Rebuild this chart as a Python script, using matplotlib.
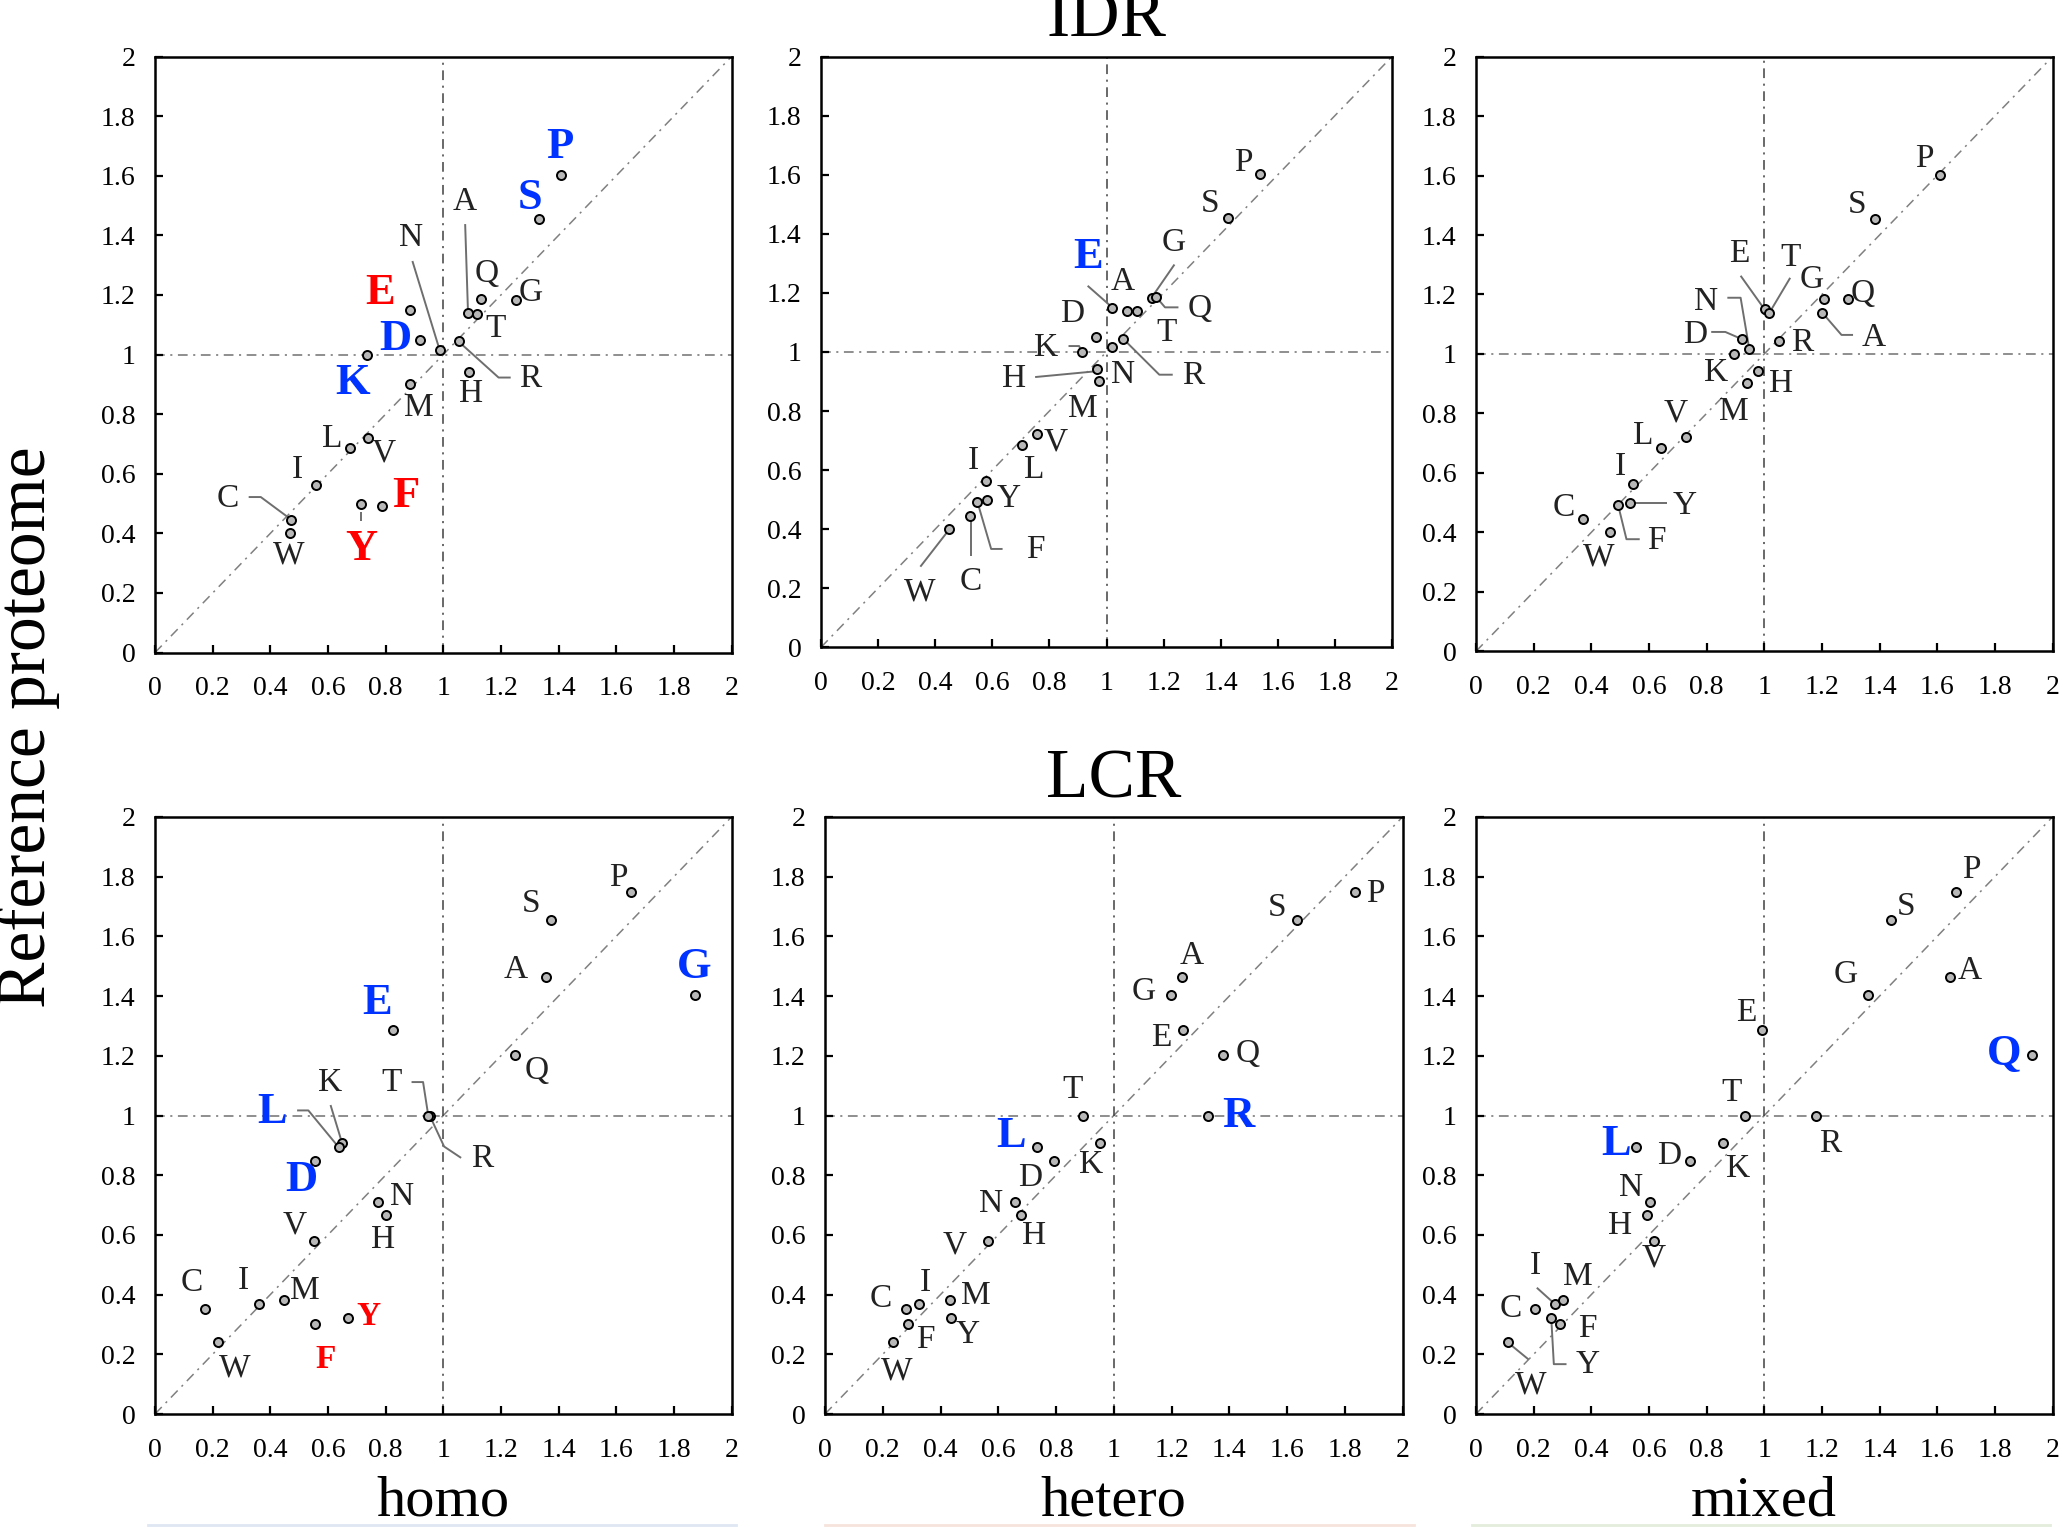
import numpy as np
import matplotlib.pyplot as plt
from matplotlib.lines import Line2D
from matplotlib.ticker import FuncFormatter

plt.rcParams['font.family'] = ['Liberation Serif', 'DejaVu Serif']
plt.rcParams['lines.scale_dashes'] = False

# amino acid order used by every array below
amino = ['A', 'C', 'D', 'E', 'F', 'G', 'H', 'I', 'K', 'L',
         'M', 'N', 'P', 'Q', 'R', 'S', 'T', 'V', 'W', 'Y']

# reference proteome (y axis), one per region
idr_ref = [1.138, 0.446, 1.050, 1.150, 0.492, 1.184, 0.941, 0.563, 1.000, 0.685,
           0.901, 1.017, 1.602, 1.185, 1.044, 1.454, 1.137, 0.721, 0.400, 0.498]
lcr_ref = [1.463, 0.351, 0.848, 1.287, 0.302, 1.404, 0.665, 0.369, 0.908, 0.894,
           0.383, 0.710, 1.749, 1.202, 1.000, 1.654, 1.000, 0.581, 0.240, 0.323]

# homo / hetero / mixed (x axis)
idr_homo = [1.086, 0.473, 0.921, 0.885, 0.788, 1.252, 1.089, 0.558, 0.735, 0.678,
            0.885, 0.987, 1.407, 1.131, 1.053, 1.332, 1.117, 0.739, 0.470, 0.714]
idr_hetero = [1.071, 0.523, 0.964, 1.021, 0.548, 1.158, 0.967, 0.577, 0.914, 0.703,
              0.975, 1.021, 1.537, 1.175, 1.059, 1.426, 1.106, 0.758, 0.450, 0.580]
idr_mixed = [1.202, 0.371, 0.922, 1.001, 0.493, 1.209, 0.980, 0.546, 0.896, 0.643,
             0.941, 0.948, 1.608, 1.291, 1.052, 1.383, 1.017, 0.727, 0.466, 0.534]
lcr_homo = [1.355, 0.175, 0.556, 0.824, 0.554, 1.872, 0.803, 0.362, 0.649, 0.637,
            0.446, 0.774, 1.653, 1.250, 0.953, 1.375, 0.948, 0.550, 0.220, 0.669]
lcr_hetero = [1.237, 0.279, 0.793, 1.241, 0.289, 1.197, 0.679, 0.325, 0.952, 0.735,
              0.434, 0.658, 1.834, 1.379, 1.327, 1.636, 0.895, 0.566, 0.237, 0.437]
lcr_mixed = [1.646, 0.206, 0.741, 0.991, 0.290, 1.359, 0.592, 0.273, 0.856, 0.554,
             0.302, 0.604, 1.665, 1.930, 1.181, 1.439, 0.934, 0.616, 0.110, 0.261]

x_ticks = [0, 0.2, 0.4, 0.6, 0.8, 1, 1.2, 1.4, 1.6, 1.8, 2]

BLUE = '#0033ff'
RED = '#ff0000'

# label placement (offset from the point, in data units) -- layout only
label_off = {
    'p1': dict(A=(-0.013, 0.374), C=(-0.221, 0.071), D=(-0.087, 0.004), E=(-0.104, 0.057),
               F=(0.082, 0.033), G=(0.051, 0.024), H=(0.009, -0.073), I=(-0.065, 0.049),
               K=(-0.05, -0.094), L=(-0.062, 0.034), M=(0.029, -0.078), N=(-0.097, 0.376),
               P=(-0.003, 0.094), Q=(0.021, 0.086), R=(0.25, -0.125), S=(-0.032, 0.072),
               T=(0.065, -0.049), V=(0.053, -0.053), W=(-0.006, -0.073), Y=(0.001, -0.151)),
    'p2': dict(A=(-0.013, 0.10), C=(0.003, -0.225), D=(-0.085, 0.079), E=(-0.087, 0.173),
               F=(0.204, -0.162), G=(0.076, 0.187), H=(-0.291, -0.033), I=(-0.044, 0.068),
               K=(-0.127, 0.015), L=(0.044, -0.083), M=(-0.058, -0.095), N=(0.037, -0.095),
               P=(-0.058, 0.04), Q=(0.15, -0.038), R=(0.244, -0.124), S=(-0.063, 0.048),
               T=(0.103, -0.073), V=(0.065, -0.026), W=(-0.105, -0.212), Y=(0.079, 0.005)),
    'p3': dict(A=(0.178, -0.083), C=(-0.065, 0.037), D=(-0.162, 0.014), E=(-0.087, 0.186),
               F=(0.134, -0.119), G=(-0.044, 0.067), H=(0.079, -0.04), I=(-0.044, 0.059),
               K=(-0.064, -0.063), L=(-0.064, 0.041), M=(-0.045, -0.095), N=(-0.151, 0.159),
               P=(-0.052, 0.055), Q=(0.05, 0.017), R=(0.081, -0.006), S=(-0.062, 0.047),
               T=(0.073, 0.188), V=(-0.033, 0.078), W=(-0.041, -0.083), Y=(0.19, -0.008)),
    'p4': dict(A=(-0.105, 0.024), C=(-0.047, 0.09), D=(-0.047, -0.063), E=(-0.053, 0.09),
               F=(0.038, -0.118), G=(-0.002, 0.094), H=(-0.011, -0.082), I=(-0.055, 0.079),
               K=(-0.04, 0.202), L=(-0.23, 0.118), M=(0.073, 0.03), N=(0.083, 0.017),
               P=(-0.044, 0.049), Q=(0.075, -0.051), R=(0.182, -0.145), S=(-0.072, 0.056),
               T=(-0.128, 0.109), V=(-0.064, 0.052), W=(0.058, -0.087), Y=(0.07, 0.004)),
    'p5': dict(A=(0.032, 0.071), C=(-0.086, 0.034), D=(-0.083, -0.058), E=(-0.078, -0.028),
               F=(0.057, -0.054), G=(-0.094, 0.011), H=(0.044, -0.068), I=(0.023, 0.07),
               K=(-0.03, -0.074), L=(-0.091, 0.037), M=(0.089, 0.014), N=(-0.084, -0.006),
               P=(0.073, -0.005), Q=(0.086, 0.004), R=(0.103, -0.002), S=(-0.072, 0.043),
               T=(-0.037, 0.087), V=(-0.116, -0.016), W=(0.012, -0.096), Y=(0.057, -0.057)),
    'p6': dict(A=(0.066, 0.022), C=(-0.087, 0.003), D=(-0.072, 0.016), E=(-0.054, 0.056),
               F=(0.095, -0.015), G=(-0.075, 0.069), H=(-0.093, -0.034), I=(-0.067, 0.128),
               K=(0.052, -0.085), L=(-0.069, 0.011), M=(0.052, 0.077), N=(-0.066, 0.047),
               P=(0.053, 0.073), Q=(-0.099, 0.003), R=(0.049, -0.096), S=(0.052, 0.047),
               T=(-0.047, 0.075), V=(0.001, -0.06), W=(0.078, -0.144), Y=(0.128, -0.158)),
}

# leader lines, vertices relative to the point
leaders = {
    'p1': dict(A=[(-0.01, 0.30), (0, 0)], C=[(-0.148, 0.076), (-0.106, 0.076), (0, 0)],
               N=[(-0.094, 0.297), (0, 0)], R=[(0.181, -0.121), (0.139, -0.121), (0, 0)],
               Y=[(0, -0.055), (0, -0.025)]),
    'p2': dict(C=[(0.003, -0.138), (0.003, -0.01)], E=[(-0.087, 0.074), (0, 0)],
               F=[(0.088, -0.159), (0.048, -0.159), (0, 0)], G=[(0.08, 0.112), (0, 0)],
               H=[(-0.217, -0.026), (-0.01, -0.007)], K=[(-0.047, 0.02), (-0.01, 0.02), (0, 0)],
               Q=[(0.077, -0.034), (0.03, -0.034), (0, 0)],
               R=[(0.173, -0.121), (0.126, -0.121), (0, 0)], W=[(-0.102, -0.127), (0, 0)]),
    'p3': dict(A=[(0.106, -0.074), (0.066, -0.074), (0, 0)],
               D=[(-0.106, 0.024), (-0.057, 0.024), (0, 0)], E=[(-0.083, 0.113), (0, 0)],
               F=[(0.075, -0.115), (0.029, -0.115), (0, 0)],
               N=[(-0.076, 0.172), (-0.03, 0.172), (0, 0)], T=[(0.073, 0.119), (0, 0)],
               Y=[(0.127, 0), (0, 0)]),
    'p4': dict(K=[(-0.04, 0.127), (0, 0)], L=[(-0.144, 0.123), (-0.105, 0.123), (0, 0)],
               R=[(0.109, -0.142), (0.05, -0.104), (0, 0)],
               T=[(-0.058, 0.112), (-0.018, 0.112), (0, 0)]),
    'p5': {},
    'p6': dict(I=[(-0.062, 0.054), (0, 0)], W=[(0, 0), (0.072, -0.057)],
               Y=[(0, 0), (0.009, -0.156), (0.053, -0.156)]),
}

# highlighted letters: colour, big
marks = {
    'p1': dict(P=(BLUE, True), S=(BLUE, True), D=(BLUE, True), K=(BLUE, True),
               E=(RED, True), Y=(RED, True), F=(RED, True)),
    'p2': dict(E=(BLUE, True)),
    'p3': {},
    'p4': dict(E=(BLUE, True), L=(BLUE, True), D=(BLUE, True), G=(BLUE, True),
               Y=(RED, False), F=(RED, False)),
    'p5': dict(L=(BLUE, True), R=(BLUE, True)),
    'p6': dict(L=(BLUE, True), Q=(BLUE, True)),
}

W_PX, H_PX = 2063, 1527
fig = plt.figure(figsize=(W_PX / 100, H_PX / 100), dpi=100)

panels = [
    ('p1', idr_homo, idr_ref, [155, 56.6, 731.5, 652.6]),
    ('p2', idr_hetero, idr_ref, [821, 56.6, 1392, 647.3]),
    ('p3', idr_mixed, idr_ref, [1476, 56.6, 2052.5, 651.3]),
    ('p4', lcr_homo, lcr_ref, [155, 817, 731.5, 1414]),
    ('p5', lcr_hetero, lcr_ref, [825, 817, 1402.5, 1414]),
    ('p6', lcr_mixed, lcr_ref, [1476, 817, 2052.5, 1414]),
]

dashdot = (0, (7, 4, 1.5, 4))
axes = {}
for key, xs, ys, (l, t, r, b) in panels:
    ax = fig.add_axes([l / W_PX, 1 - b / H_PX, (r - l) / W_PX, (b - t) / H_PX])
    axes[key] = ax
    ax.set_xlim(0, 2)
    ax.set_ylim(0, 2)
    ax.plot([0, 2], [0, 2], color='#808080', lw=1.1, ls=dashdot, zorder=1)
    ax.axhline(1, color='#707070', lw=1.1, ls=dashdot, zorder=1)
    ax.axvline(1, color='#404040', lw=1.1, ls=dashdot, zorder=1)

    pos = dict(zip(amino, zip(xs, ys)))
    for aa, path in leaders[key].items():
        px, py = pos[aa]
        ax.plot([px + dx for dx, dy in path], [py + dy for dx, dy in path],
                color='#6e6e6e', lw=1.4, zorder=2, solid_capstyle='butt')

    ax.plot(xs, ys, 'o', ms=6.5, mfc='#b8b8b8', mec='black', mew=1.4,
            ls='none', zorder=3)

    for aa, (px, py) in pos.items():
        dx, dy = label_off[key][aa]
        color, big = marks[key].get(aa, ('#222222', None))
        if big is None:
            ax.text(px + dx, py + dy, aa, color=color, fontsize=24,
                    ha='center', va='center', zorder=4)
        else:
            ax.text(px + dx, py + dy, aa, color=color, fontsize=32 if big else 24,
                    fontweight='bold', ha='center', va='center', zorder=4)

    ax.set_xticks(x_ticks)
    ax.set_yticks(x_ticks)
    fmt = FuncFormatter(lambda v, p: f'{v:g}')
    ax.xaxis.set_major_formatter(fmt)
    ax.yaxis.set_major_formatter(fmt)
    ax.tick_params(direction='in', length=6, width=1.6, labelsize=20,
                   colors='black', top=False, right=False)
    ax.tick_params(axis='x', pad=17)
    ax.tick_params(axis='y', pad=14)
    for sp in ax.spines.values():
        sp.set_linewidth(1.8)

axes['p2'].set_title('IDR', fontsize=50, pad=15)
axes['p5'].set_title('LCR', fontsize=50, pad=14)
for key, name in [('p4', 'homo'), ('p5', 'hetero'), ('p6', 'mixed')]:
    axes[key].set_xlabel(name, fontsize=42, labelpad=9)

fig.text(0.0135, 0.524, 'Reference proteome', rotation=90, fontsize=50,
         ha='center', va='center')

# faint strips along the bottom edge
for x0, x1, c in [(148, 736, '#dfe7f3'), (825, 1414, '#f6e4dc'), (1472, 2050, '#e4ecdc')]:
    fig.add_artist(Line2D([x0 / W_PX, x1 / W_PX], [0.001, 0.001], color=c, lw=2,
                          transform=fig.transFigure))

fig.savefig('out.png', dpi=100)
